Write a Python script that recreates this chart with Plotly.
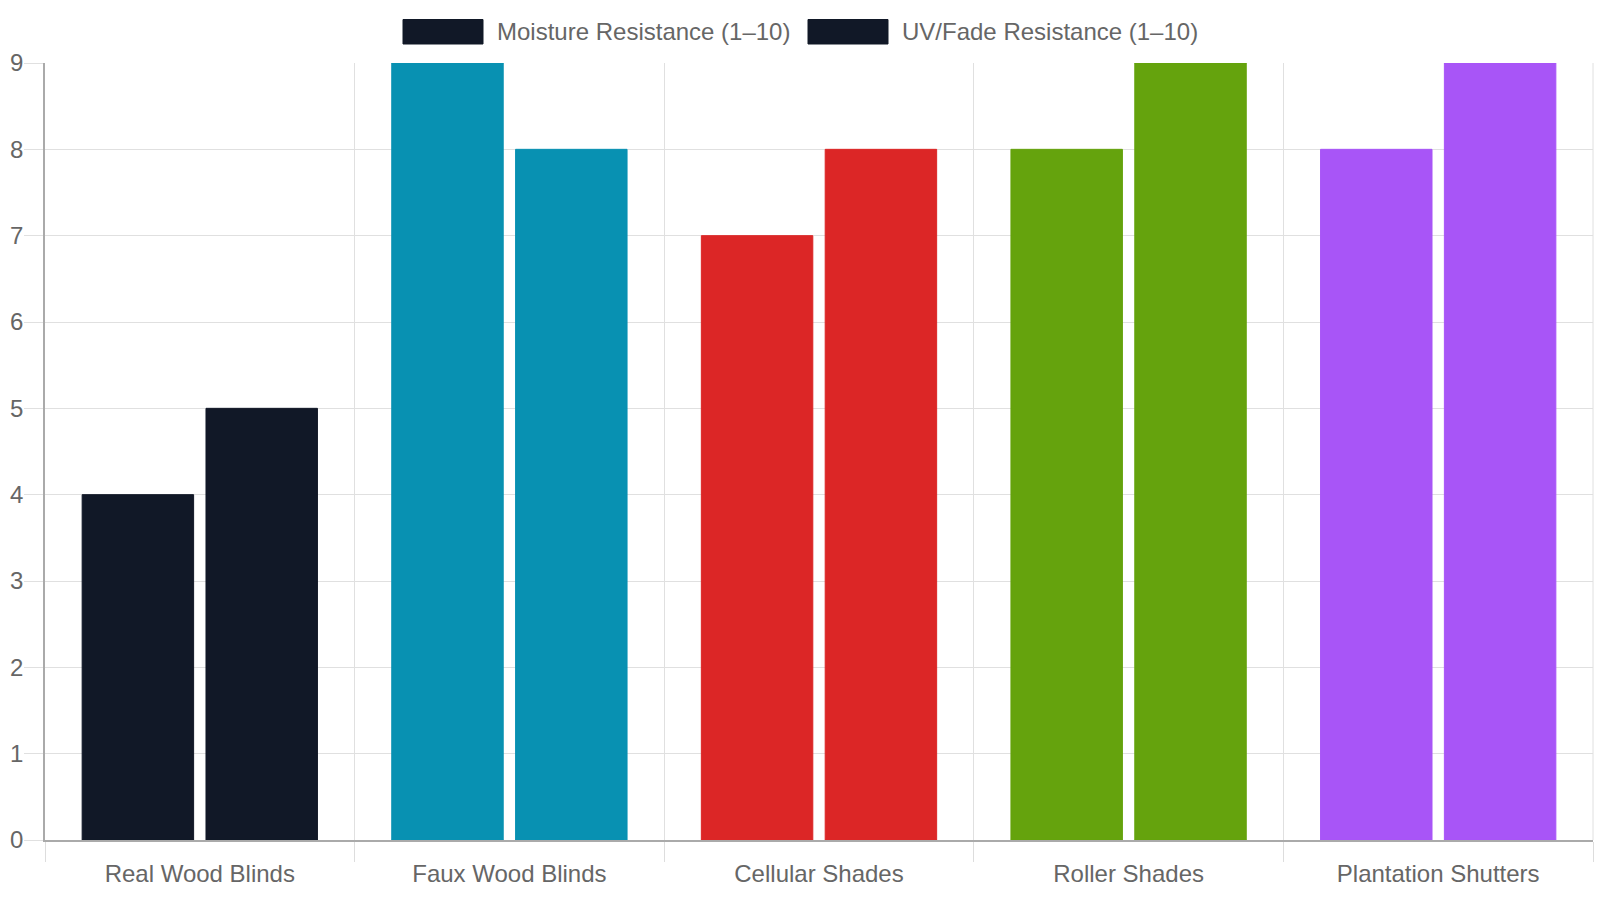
import plotly.graph_objects as go

categories = ["Real Wood Blinds", "Faux Wood Blinds", "Cellular Shades", "Roller Shades", "Plantation Shutters"]
moisture = [4, 9, 7, 8, 8]
uv_fade = [5, 8, 8, 9, 9]
series_names = ["Moisture Resistance (1–10)", "UV/Fade Resistance (1–10)"]
bar_colors = ["#111827", "#0891b2", "#dc2626", "#65a30d", "#a855f7"]
y_ticks = list(range(0, 10))

FONT = "Liberation Sans, Arial, sans-serif"
W, H = 1600, 900
ML, MR, MT, MB = 45, 7, 63, 60
PW, PH = W - ML - MR, H - MT - MB

fig = go.Figure()
for name, vals in zip(series_names, [moisture, uv_fade]):
    fig.add_trace(go.Bar(
        x=categories, y=vals, name=name,
        marker=dict(color=bar_colors, line=dict(color=bar_colors, width=1)),
        showlegend=False,
    ))

def px_x(p):
    return (p - ML) / PW

def px_y(p):
    return (H - MB - p) / PH

shapes = []
annotations = []
legend_items = [(403, 483, 495, series_names[0]), (808, 888, 900, series_names[1])]
for x0, x1, tx, label in legend_items:
    shapes.append(dict(type="rect", xref="paper", yref="paper",
                       x0=px_x(x0), x1=px_x(x1), y0=px_y(44), y1=px_y(19.5),
                       fillcolor=bar_colors[0], line=dict(color=bar_colors[0], width=1)))
    annotations.append(dict(xref="paper", yref="paper", x=px_x(tx), y=px_y(31.5),
                            xanchor="left", yanchor="middle", showarrow=False,
                            text=label, font=dict(family=FONT, size=24, color="#666666")))

fig.update_layout(
    width=W, height=H,
    margin=dict(l=ML, r=MR, t=MT, b=MB),
    paper_bgcolor="white", plot_bgcolor="white",
    barmode="group", bargap=0.2, bargroupgap=0.1,
    font=dict(family=FONT, size=24, color="#666666"),
    shapes=shapes, annotations=annotations,
    xaxis=dict(
        type="category", tickson="boundaries",
        showgrid=True, gridcolor="#e0e0e0", gridwidth=1,
        ticks="outside", ticklen=20, tickcolor="#dddddd", tickwidth=1,
        showline=True, linecolor="#aaaaaa", linewidth=1.5,
        tickfont=dict(family=FONT, size=24, color="#666666"),
        ticklabelstandoff=11,
        mirror=False, zeroline=False,
    ),
    yaxis=dict(
        range=[0, 9], tickvals=y_ticks, ticktext=[str(v) for v in y_ticks],
        showgrid=True, gridcolor="#e0e0e0", gridwidth=1,
        ticks="outside", ticklen=19, tickcolor="#e0e0e0", tickwidth=1,
        showline=True, linecolor="#aaaaaa", linewidth=1.5,
        zeroline=False, ticklabelstandoff=-4,
        tickfont=dict(family=FONT, size=24, color="#666666"),
    ),
)
fig.add_shape(type="line", xref="paper", yref="paper", x0=1, x1=1, y0=0, y1=1,
              line=dict(color="#e0e0e0", width=1), layer="below")

fig.write_html("out.html")
